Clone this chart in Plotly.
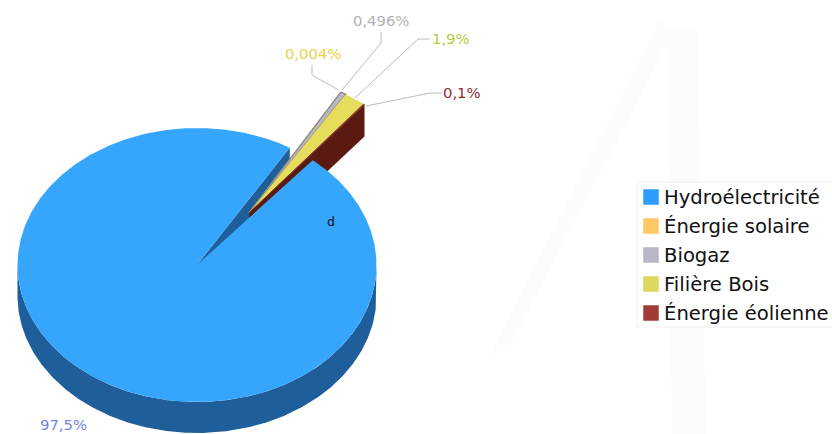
import numpy as np
import plotly.graph_objects as go

# Shares of electricity production by source, in percent
categories = ["Hydroélectricité", "Énergie solaire", "Biogaz", "Filière Bois", "Énergie éolienne"]
values = [97.5, 0.004, 0.496, 1.9, 0.1]
value_labels = ["97,5%", "0,004%", "0,496%", "1,9%", "0,1%"]

top_colors = ["#36a6fd", "#ffc766", "#b9b7c6", "#e6dd5c", "#a03c34"]
swatch_colors = ["#2e9cff", "#ffc766", "#b8b7c8", "#dcd95c", "#a03c34"]
label_colors = ["#6f86e6", "#e9d24a", "#b2b2b2", "#b4cc3c", "#8c2f2a"]

# Projection of the tilted disc, in page pixels
CX, CY, RX, RY, DEPTH = 197.0, 265.0, 179.5, 137.0, 31.0
EXPLODE_DX, EXPLODE_DY = 52.0, -52.0
EXPLODE_SCALE = 1.02
EXPLODE_TURN = 1.0
START_DEG = 49.9
WALL_MAIN = "#1e5f9b"
WALL_EOLIEN = "#5a1a12"


def point(deg, ox=0.0, oy=0.0, drop=0.0, scale=1.0):
    a = np.radians(deg)
    return CX + ox + scale * RX * np.cos(a), CY + oy + drop - scale * RY * np.sin(a)


def arc(d0, d1, ox=0.0, oy=0.0, drop=0.0, scale=1.0):
    n = max(2, int(abs(d1 - d0) * 2) + 2)
    return point(np.linspace(d0, d1, n), ox, oy, drop, scale)


def wedge(d0, d1, ox=0.0, oy=0.0, scale=1.0):
    x, y = arc(d0, d1, ox, oy, 0.0, scale)
    return [CX + ox, *x, CX + ox], [CY + oy, *y, CY + oy]


def add_poly(fig, xs, ys, color, line_color=None, line_width=0):
    fig.add_trace(go.Scatter(
        x=xs, y=ys, mode="lines", fill="toself", fillcolor=color,
        line=dict(color=line_color or color, width=line_width),
        hoverinfo="skip", showlegend=False))


# Angular extent of every slice, running clockwise from the start angle
spans = [v * 3.6 for v in values]
ends = START_DEG - np.cumsum(spans)
starts = np.concatenate(([START_DEG], ends[:-1]))

fig = go.Figure()

# Outer rim of the main slice
xt, yt = arc(180, 360)
xb, yb = arc(360, 180, drop=DEPTH)
add_poly(fig, [*xt, *xb], [*yt, *yb], WALL_MAIN)

# Cut face of the main slice, seen through the gap
ex, ey = point(starts[1])
add_poly(fig, [CX, ex, ex, CX], [CY, ey, ey + DEPTH, CY + DEPTH], WALL_MAIN)

# Cut face of the last pulled-out slice
tip_x, tip_y = point(ends[-1] + EXPLODE_TURN, EXPLODE_DX, EXPLODE_DY, scale=EXPLODE_SCALE)
ax, ay = CX + EXPLODE_DX, CY + EXPLODE_DY
add_poly(fig, [ax, tip_x, tip_x, ax], [ay, tip_y, tip_y + DEPTH + 1, ay + DEPTH + 1], WALL_EOLIEN)

# Top faces of the pulled-out slices
edge_colors = [None, "#f0b93a", "#8f8c80", "#d8cf50", "#7a2a22"]
edge_widths = [0, 1.0, 1.3, 0, 0.8]
for i in range(1, len(values)):
    wx, wy = wedge(starts[i] + EXPLODE_TURN, ends[i] + EXPLODE_TURN,
                   EXPLODE_DX, EXPLODE_DY, EXPLODE_SCALE)
    add_poly(fig, wx, wy, top_colors[i], edge_colors[i], edge_widths[i])

# Top face of the main slice, nearest to the viewer
wx, wy = wedge(starts[0], ends[0])
add_poly(fig, wx, wy, top_colors[0])

# Leader lines from the slices to their labels
leaders = {
    1: ([338.5, 312, 312], [90, 75, 65]),
    2: ([342, 381, 381], [90, 43, 32]),
    3: ([355, 418, 430], [98, 39, 39]),
    4: ([366, 430, 442], [106, 93, 93]),
}
for xs, ys in leaders.values():
    fig.add_trace(go.Scatter(x=xs, y=ys, mode="lines", line=dict(color="#a8a8a8", width=0.8),
                             hoverinfo="skip", showlegend=False))

label_font = "DejaVu Sans"

# Legend column: one swatch and one name per source
legend_rows = [197, 226, 255, 284, 313]
for name, color, row in zip(categories, swatch_colors, legend_rows):
    fig.add_trace(go.Scatter(
        x=[651], y=[row], mode="markers", name=name, showlegend=False, hoverinfo="name",
        marker=dict(symbol="square", size=15.5, color=color, line_width=0)))

label_pos = [(63, 424.5), (313, 53), (381, 20), (450.5, 38.5), (461.5, 92.5)]
annotations = [
    dict(x=x, y=y, text=t, showarrow=False, xanchor="center", yanchor="middle",
         font=dict(family=label_font, size=14.8, color=c))
    for (x, y), t, c in zip(label_pos, value_labels, label_colors)
]
annotations.append(dict(x=331, y=221, text="d", showarrow=False, xanchor="center", yanchor="middle",
                        font=dict(family=label_font, size=12.5, color="#111111")))
annotations += [
    dict(x=664, y=row, text=name, showarrow=False, xanchor="left", yanchor="middle", xshift=-2,
         font=dict(family=label_font, size=19.6, color="#111111"))
    for name, row in zip(categories, legend_rows)
]

# Pale turbine watermark behind the chart, and the legend frame
pale = "#fbfcfe"
shapes = [
    dict(type="path", path="M 667 28 L 697 28 L 706 434 L 672 434 Z",
         fillcolor=pale, line_width=0, layer="below"),
    dict(type="path", path="M 660 20 L 672 35 L 510 345 L 488 360 Z",
         fillcolor=pale, line_width=0, layer="below"),
    dict(type="rect", x0=637, x1=833, y0=182, y1=327,
         fillcolor="rgba(255,255,255,0.85)", line=dict(color="#eeeeee", width=1), layer="below"),
]

fig.update_layout(
    width=832, height=434, margin=dict(l=0, r=0, t=0, b=0, pad=0),
    autosize=False, showlegend=False,
    paper_bgcolor="white", plot_bgcolor="rgba(0,0,0,0)",
    xaxis=dict(range=[0, 832], visible=False, fixedrange=True),
    yaxis=dict(range=[434, 0], visible=False, fixedrange=True),
    annotations=annotations, shapes=shapes,
)

fig.write_html("out.html", config=dict(displayModeBar=False))
